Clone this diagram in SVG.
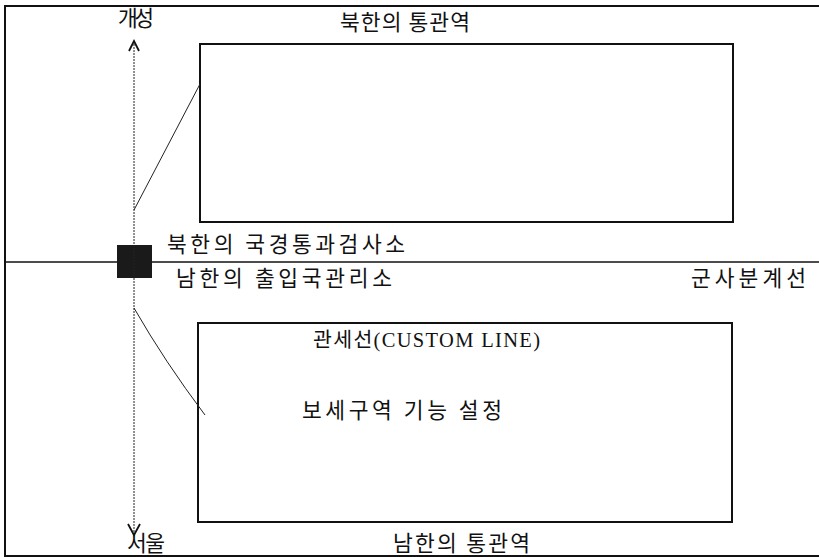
<svg xmlns="http://www.w3.org/2000/svg" width="819" height="557" viewBox="0 0 819 557">
<defs>
<style>
.t{font-family:"Noto Sans CJK KR","Noto Sans",sans-serif;font-size:21.5px;fill:#111}
.s{font-family:"Liberation Serif","Noto Sans CJK KR",serif;font-size:20.5px;fill:#111}
.frame{fill:none;stroke:#111;stroke-width:2}
.box{fill:none;stroke:#111;stroke-width:2}
.ln{fill:none;stroke:#222;stroke-width:1}
.ah{fill:none;stroke:#111;stroke-width:1.8}
</style>
</defs>
<rect width="819" height="557" fill="#fff"/>
<path class="frame" d="M820,6 H5 V556 H820"/>
<g id="north-station">
<rect class="box" x="200" y="44" width="533" height="178"/>
<text class="t" x="340" y="30" textLength="130" lengthAdjust="spacing">북한의 통관역</text>
</g>
<g id="south-station">
<rect class="box" x="198" y="323" width="534" height="199"/>
<text class="s" x="313" y="347" textLength="227" lengthAdjust="spacing">관세선(CUSTOM LINE)</text>
<text class="t" x="302" y="418" textLength="200" lengthAdjust="spacing">보세구역 기능 설정</text>
<text class="t" x="393" y="551" textLength="137" lengthAdjust="spacing">남한의 통관역</text>
</g>
<g id="mdl">
<line x1="5" y1="262" x2="819" y2="262" stroke="#111" stroke-width="1.5"/>
<text class="t" x="691" y="286" textLength="115" lengthAdjust="spacing">군사분계선</text>
</g>
<g id="checkpoint">
<rect x="117" y="245" width="35" height="33" fill="#1a1a1a"/>
<text class="t" x="167" y="252" textLength="238" lengthAdjust="spacing">북한의 국경통과검사소</text>
<text class="t" x="176" y="286" textLength="216" lengthAdjust="spacing">남한의 출입국관리소</text>
</g>
<g id="kaesong"><text class="t" x="118" y="26" textLength="36" lengthAdjust="spacing">개성</text></g>
<g id="seoul"><text class="t" x="127" y="551" textLength="38" lengthAdjust="spacing">서울</text></g>
<g id="connectors">
<line class="ln" x1="134" y1="41" x2="134" y2="535" stroke-dasharray="2,1"/>
<path class="ah" d="M129,51 L134,41 L139,51"/>
<path class="ah" d="M128,524 L134,535 L140,524"/>
<line class="ln" x1="134" y1="210" x2="200" y2="84"/>
<path class="ln" d="M134,308 Q165,362 205,415"/>
</g>
</svg>
